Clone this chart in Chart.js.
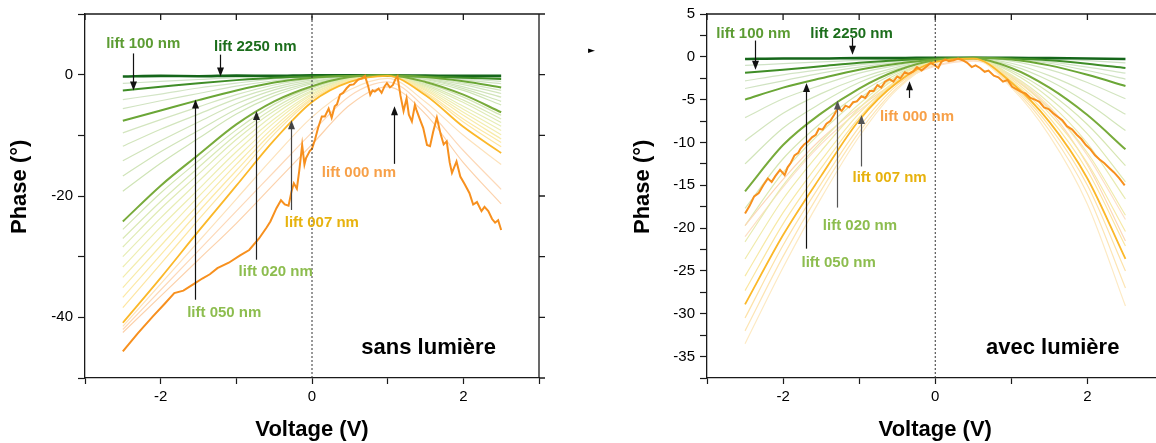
<!DOCTYPE html>
<html>
<head>
<meta charset="utf-8">
<script src="https://cdn.jsdelivr.net/npm/chart.js@4"></script>
<style>
  html, body { margin: 0; padding: 0; background: #fff; width: 1156px; height: 443px; overflow: hidden; }
  #sans { position: absolute; left: 0; top: 0; }
  #avec { position: absolute; left: 580px; top: 0; }
  #mark { position: absolute; left: 588px; top: 45px; font: 9px "DejaVu Sans", sans-serif; color: #000; }
</style>
</head>
<body>
<canvas id="sans" width="560" height="443" style="width:560px;height:443px"></canvas>
<canvas id="avec" width="600" height="443" style="width:600px;height:443px"></canvas>
<div id="mark">►</div>
<script>
Chart.defaults.font.family = '"Liberation Sans", Arial, Helvetica, sans-serif';
Chart.defaults.font.size = 15;
Chart.defaults.color = '#000';

// shared voltage grid for the smooth curves
const volts = [-2.5, -2, -1.5, -1, -0.5, 0, 0.5, 1, 1.5, 2, 2.5];
const xLabels = [-2, 0, 2];

// ---- sans lumière ----
const sansYLabels = [0, -20, -40];
const sansLift000Volts = [-2.5,-2.3,-2.1,-1.95,-1.82,-1.7,-1.56,-1.45,-1.35,-1.25,-1.1,-0.95,-0.83,-0.7,-0.6,-0.55,-0.47,-0.41,-0.36,-0.31,-0.27,-0.24,-0.2,-0.17,-0.13,-0.1,-0.08,-0.03,0,0.04,0.08,0.13,0.17,0.22,0.26,0.3,0.33,0.37,0.41,0.46,0.5,0.55,0.61,0.66,0.7,0.74,0.77,0.8,0.83,0.88,0.92,0.96,0.99,1.03,1.07,1.1,1.13,1.17,1.21,1.25,1.28,1.32,1.36,1.38,1.43,1.47,1.52,1.56,1.6,1.65,1.7,1.74,1.78,1.82,1.85,1.91,1.96,2.02,2.08,2.13,2.18,2.24,2.28,2.33,2.38,2.42,2.46,2.5];
const sansLift000 = [-45.6,-42.6,-39.8,-37.8,-36.0,-35.6,-34.5,-33.6,-32.9,-31.9,-31.0,-29.8,-28.9,-27.0,-25.2,-24.2,-22.0,-20.7,-21.4,-21.6,-19.2,-17.9,-18.8,-16.0,-11.6,-14.8,-13.8,-12.6,-12.2,-10.7,-8.8,-6.9,-6.9,-5.6,-7.1,-5.2,-4.9,-3.3,-3.0,-2.2,-1.7,-1.6,-0.8,-0.6,-0.2,-1.8,-3.3,-2.6,-2.8,-2.3,-3.0,-1.9,-1.4,-2.1,-1.7,-0.8,-0.3,-3.5,-6.0,-3.9,-6.6,-7.7,-5.0,-5.8,-7.5,-8.8,-11.6,-11.8,-9.5,-7.1,-9.8,-11.5,-11.0,-14.5,-16.2,-14.3,-16.8,-18.1,-19.5,-21.4,-21.0,-22.5,-21.8,-22.5,-23.8,-24.4,-24.0,-25.6];
const sansLift007 = [-40.9, -33.5, -25.8, -18.3, -10.8, -4.5, -1.2, -0.2, -3.4, -8.6, -12.9];
const sansLift020 = [-24.2, -18.3, -13.2, -8.2, -4.4, -1.9, -0.4, -0.1, -1.2, -3.3, -6.2];
const sansLift050 = [-7.6, -5.9, -4.2, -2.6, -1.3, -0.5, -0.2, -0.1, -0.4, -1.1, -2.1];
const sansLift100 = [-2.6, -2.0, -1.4, -0.9, -0.5, -0.3, -0.2, -0.2, -0.3, -0.5, -0.7];
const sansLift2250 = [-0.3, -0.2, -0.25, -0.15, -0.2, -0.1, -0.1, -0.1, -0.15, -0.2, -0.2];
// the unlabelled lifts in between, bottom to top
const sansOther = [
  [-42.5, -36.5, -30.5, -24.5, -18.0, -11.5, -5.0, -2.0, -6.5, -14.5, -21.3],
  [-42.0, -35.5, -29.0, -22.5, -16.0, -9.5, -3.5, -1.2, -5.5, -12.5, -18.9],
  [-41.5, -34.5, -27.5, -20.5, -13.5, -7.0, -2.5, -0.6, -4.5, -10.0, -14.8],
  [-38.4, -31.2, -23.9, -16.8, -9.8, -4.1, -1.1, -0.2, -3.1, -7.8, -11.9],
  [-36.7, -29.7, -22.6, -15.8, -9.2, -3.9, -1.0, -0.2, -2.9, -7.3, -11.2],
  [-35.1, -28.2, -21.4, -14.8, -8.6, -3.6, -0.9, -0.2, -2.6, -6.7, -10.6],
  [-33.4, -26.7, -20.1, -13.8, -7.9, -3.3, -0.8, -0.15, -2.4, -6.2, -9.9],
  [-31.7, -25.1, -18.9, -12.7, -7.3, -3.1, -0.8, -0.15, -2.2, -5.7, -9.2],
  [-30.0, -23.6, -17.6, -11.7, -6.6, -2.8, -0.7, -0.15, -2.0, -5.2, -8.5],
  [-28.4, -22.1, -16.4, -10.7, -6.0, -2.6, -0.6, -0.1, -1.8, -4.6, -7.9],
  [-27.0, -20.9, -15.3, -9.9, -5.5, -2.3, -0.5, -0.1, -1.6, -4.2, -7.3],
  [-25.5, -19.5, -14.2, -9.1, -4.9, -2.1, -0.5, -0.1, -1.4, -3.7, -6.7],
  [-19.2, -14.6, -10.5, -6.5, -3.5, -1.5, -0.35, -0.1, -1.0, -2.6, -5.0],
  [-16.7, -12.7, -9.2, -5.7, -3.0, -1.3, -0.3, -0.1, -0.8, -2.3, -4.4],
  [-14.2, -10.9, -7.8, -4.8, -2.5, -1.1, -0.3, -0.1, -0.7, -2.0, -3.7],
  [-11.8, -9.0, -6.5, -4.0, -2.1, -0.85, -0.25, -0.1, -0.6, -1.65, -3.1],
  [-9.6, -7.4, -5.3, -3.3, -1.7, -0.7, -0.2, -0.1, -0.5, -1.4, -2.6],
  [-5.6, -4.3, -3.1, -1.9, -1.0, -0.4, -0.2, -0.1, -0.35, -0.85, -1.5],
  [-4.1, -3.2, -2.2, -1.4, -0.7, -0.35, -0.2, -0.15, -0.35, -0.7, -1.1],
  [-1.45, -1.1, -0.8, -0.5, -0.35, -0.2, -0.15, -0.15, -0.2, -0.35, -0.45]
];

// ---- avec lumière ----
const avecYLabels = [5, 0, -5, -10, -15, -20, -25, -30, -35];
const avecLift000Volts = [-2.5,-2.44,-2.38,-2.32,-2.26,-2.2,-2.15,-2.1,-2.04,-1.98,-1.94,-1.9,-1.85,-1.8,-1.77,-1.72,-1.67,-1.62,-1.57,-1.53,-1.48,-1.43,-1.38,-1.33,-1.28,-1.23,-1.18,-1.13,-1.08,-1.03,-0.97,-0.92,-0.86,-0.81,-0.76,-0.71,-0.66,-0.6,-0.55,-0.5,-0.46,-0.4,-0.35,-0.29,-0.24,-0.18,-0.11,-0.06,-0.02,0.04,0.08,0.13,0.18,0.24,0.3,0.36,0.42,0.48,0.53,0.59,0.65,0.7,0.77,0.83,0.89,0.95,1.01,1.07,1.13,1.19,1.25,1.31,1.37,1.43,1.49,1.55,1.61,1.67,1.73,1.8,1.86,1.92,1.98,2.04,2.1,2.16,2.22,2.29,2.35,2.42,2.49];
const avecLift000 = [-18.3,-17.4,-16.3,-15.9,-15.0,-14.2,-14.6,-13.9,-13.2,-13.8,-12.9,-12.4,-11.5,-11.2,-10.7,-10.2,-9.9,-9.4,-9.1,-8.4,-8.5,-7.8,-7.5,-6.8,-6.0,-6.3,-5.7,-5.9,-5.3,-5.2,-4.6,-4.8,-4.0,-4.0,-3.3,-3.6,-2.9,-2.6,-2.9,-2.3,-2.5,-1.8,-2.0,-1.7,-1.2,-1.6,-1.1,-0.7,-0.9,-1.3,-0.6,-0.3,-0.5,-0.4,-0.2,-0.4,-0.7,-1.2,-1.0,-1.3,-1.75,-1.6,-2.2,-2.4,-2.9,-2.7,-3.5,-3.8,-4.1,-4.3,-4.8,-5.0,-5.25,-5.9,-6.1,-6.6,-7.0,-7.4,-8.1,-8.5,-9.1,-9.6,-10.3,-10.8,-11.5,-12.0,-12.4,-13.0,-13.5,-14.2,-15.0];
const avecLift007 = [-28.9, -20.8, -13.9, -7.4, -3.0, -0.6, -0.2, -3.0, -7.6, -14.2, -23.6];
const avecLift020 = [-15.7, -10.3, -6.6, -3.7, -1.6, -0.4, -0.2, -1.3, -3.6, -6.8, -10.8];
const avecLift050 = [-5.0, -3.6, -2.5, -1.5, -0.8, -0.3, -0.1, -0.3, -1.0, -2.1, -3.4];
const avecLift100 = [-1.85, -1.5, -1.1, -0.7, -0.4, -0.2, -0.1, -0.2, -0.4, -0.8, -1.3];
const avecLift2250 = [-0.25, -0.2, -0.2, -0.15, -0.15, -0.1, -0.1, -0.1, -0.15, -0.2, -0.25];
const avecOther = [
  [-33.5, -24.6, -16.5, -9.3, -3.8, -0.8, -0.3, -3.6, -9.2, -17.2, -29.1],
  [-32.0, -23.3, -15.6, -8.8, -3.6, -0.8, -0.25, -3.4, -8.6, -16.0, -27.0],
  [-30.5, -22.0, -14.8, -8.2, -3.3, -0.7, -0.2, -3.2, -8.1, -15.0, -25.0],
  [-27.3, -19.5, -13.0, -7.1, -2.8, -0.6, -0.2, -2.8, -7.1, -13.3, -22.1],
  [-25.6, -18.2, -12.1, -6.6, -2.7, -0.55, -0.2, -2.6, -6.6, -12.4, -20.4],
  [-23.6, -16.6, -11.0, -6.0, -2.4, -0.5, -0.2, -2.3, -6.0, -11.2, -18.5],
  [-21.6, -15.0, -9.9, -5.5, -2.2, -0.5, -0.2, -2.1, -5.4, -10.1, -16.6],
  [-21.0, -15.2, -10.2, -6.3, -3.1, -1.1, -0.5, -2.2, -5.8, -11.5, -19.0],
  [-19.7, -14.3, -9.6, -5.9, -2.9, -1.0, -0.4, -2.4, -6.2, -12.6, -21.5],
  [-19.7, -13.5, -8.8, -4.9, -2.0, -0.5, -0.2, -1.8, -4.8, -9.0, -14.6],
  [-17.7, -11.9, -7.7, -4.3, -1.8, -0.4, -0.2, -1.6, -4.2, -7.9, -12.7],
  [-12.5, -8.3, -5.4, -3.0, -1.4, -0.4, -0.15, -1.0, -2.8, -5.4, -8.6],
  [-9.8, -6.6, -4.3, -2.5, -1.2, -0.35, -0.15, -0.75, -2.2, -4.2, -6.7],
  [-7.1, -4.9, -3.3, -1.9, -1.0, -0.3, -0.1, -0.5, -1.5, -3.0, -4.9],
  [-3.7, -2.8, -1.9, -1.2, -0.65, -0.25, -0.1, -0.25, -0.75, -1.6, -2.6],
  [-2.8, -2.1, -1.5, -0.95, -0.5, -0.25, -0.1, -0.2, -0.6, -1.2, -1.9],
  [-1.0, -0.8, -0.6, -0.4, -0.25, -0.15, -0.1, -0.15, -0.25, -0.45, -0.7]
];

// styles
const sansOtherColors = ['#fcd2ac','#fdd9b9','#fde2bb','#fde6a2','#fce9a6','#f8eba9','#f3edae','#eeeeb2','#e7edb5','#e0ebb6','#dae9b6','#d4e6b5','#cfe4b6','#d0e4b9','#d1e4bb','#d2e5bd','#d3e5bf','#d0e3c1','#d3e5c6','#cfe2c6'];
const avecOtherColors = ['#fdeac4','#fde5b4','#fde2a8','#fbe6a0','#f7e9a6','#f0ebac','#e8ebb1','#fde0c6','#fcd8b8','#dfe9b3','#d7e6b3','#d2e5ba','#d3e5be','#d3e5c1','#d0e3c2','#d3e5c6','#cfe2c6'];

const framePlugin = {
  id: 'frame',
  afterDraw(chart) {
    const {ctx, chartArea: a, scales: {x, y}} = chart;
    ctx.save();
    ctx.strokeStyle = '#1a1a1a';
    ctx.lineWidth = 1.3;
    ctx.beginPath();
    ctx.moveTo(a.left, a.top); ctx.lineTo(a.right, a.top); ctx.lineTo(a.right, a.bottom);
    x.ticks.forEach(t => { const p = x.getPixelForValue(t.value); ctx.moveTo(p, a.top); ctx.lineTo(p, a.top + 6); });
    y.ticks.forEach(t => { const p = y.getPixelForValue(t.value); ctx.moveTo(a.right, p); ctx.lineTo(a.right + 6, p); });
    ctx.stroke();
    ctx.restore();
  }
};

const notesPlugin = {
  id: 'notes',
  afterDatasetsDraw(chart, args, opts) {
    const {ctx, scales: {x, y}} = chart;
    ctx.save();
    opts.arrows.forEach(a => {
      const px = Math.round(x.getPixelForValue(a.x)) + 0.5;
      const y0 = y.getPixelForValue(a.from), y1 = y.getPixelForValue(a.to);
      const dir = y1 > y0 ? 1 : -1;
      ctx.strokeStyle = a.color; ctx.fillStyle = a.color; ctx.lineWidth = 1.2;
      ctx.beginPath(); ctx.moveTo(px, y0); ctx.lineTo(px, y1 - dir * 6); ctx.stroke();
      ctx.beginPath(); ctx.moveTo(px, y1); ctx.lineTo(px - 3.5, y1 - dir * 9); ctx.lineTo(px + 3.5, y1 - dir * 9); ctx.closePath(); ctx.fill();
    });
    ctx.textBaseline = 'middle';
    ctx.textAlign = 'center';
    ctx.font = 'bold 15px "Liberation Sans", Arial, sans-serif';
    opts.labels.forEach(l => {
      ctx.fillStyle = l.color;
      ctx.fillText(l.text, x.getPixelForValue(l.x), y.getPixelForValue(l.y));
    });
    const c = opts.caption;
    ctx.textAlign = 'right';
    ctx.fillStyle = '#000';
    ctx.font = 'bold 22px "Liberation Sans", Arial, sans-serif';
    ctx.fillText(c.text, x.getPixelForValue(c.x), y.getPixelForValue(c.y));
    ctx.restore();
  }
};

function pts(xs, ys) { return xs.map((v, i) => ({x: v, y: ys[i]})); }

function panel(id, p) {
  const smooth = {cubicInterpolationMode: 'monotone'};
  const main = [
    {data: pts(p.v000, p.y000), borderColor: '#f7901e', borderWidth: 2},
    {data: pts(volts, p.y007), borderColor: '#fbb829', borderWidth: 1.8, ...smooth},
    {data: pts(volts, p.y020), borderColor: '#78ab3b', borderWidth: 2, ...smooth},
    {data: pts(volts, p.y050), borderColor: '#6aa636', borderWidth: 2, ...smooth},
    {data: pts(volts, p.y100), borderColor: '#3f8d27', borderWidth: 2, ...smooth},
    {data: pts(volts, p.y2250), borderColor: '#15661a', borderWidth: 2.6, ...smooth}
  ];
  const others = p.other.map((ys, i) => ({data: pts(volts, ys), borderColor: p.otherColors[i], borderWidth: 1.2, ...smooth}));
  const zero = {data: [{x: 0, y: p.yMin}, {x: 0, y: p.yMax}], borderColor: '#333', borderWidth: 1, borderDash: [2, 2]};
  const axisLine = {display: true, color: '#1a1a1a', width: 1.3};
  return new Chart(document.getElementById(id), {
    type: 'line',
    data: {datasets: [zero, ...main, ...others]},
    options: {
      responsive: false,
      animation: false,
      events: [],
      layout: {padding: {top: 12, right: p.rightPad, left: 0, bottom: 0}},
      elements: {point: {radius: 0}, line: {fill: false, tension: 0}},
      plugins: {legend: {display: false}, tooltip: {enabled: false}, notes: p.notes},
      scales: {
        x: {
          type: 'linear', min: -3, max: 3,
          border: axisLine,
          grid: {display: true, drawOnChartArea: false, tickLength: 6, color: '#1a1a1a', tickWidth: 1.2},
          ticks: {stepSize: 1, autoSkip: false, maxRotation: 0, padding: 4, callback: v => xLabels.includes(v) ? v : ''},
          title: {display: true, text: 'Voltage (V)', font: {size: 22, weight: 'bold'}, padding: {top: 0, bottom: 0}},
          afterFit: s => { s.height = 65; }
        },
        y: {
          type: 'linear', min: p.yMin, max: p.yMax,
          border: axisLine,
          grid: {display: true, drawOnChartArea: false, tickLength: 7, color: '#1a1a1a', tickWidth: 1.2},
          ticks: {stepSize: p.yStep, autoSkip: false, padding: 5, callback: v => p.yLabels.includes(v) ? v : ''},
          title: {display: true, text: '   Phase (°)', font: {size: 22, weight: 'bold'}, padding: {top: p.titlePad, bottom: 0}},
          afterFit: s => { s.width = p.yWidth; }
        }
      }
    },
    plugins: [framePlugin, notesPlugin]
  });
}

panel('sans', {
  v000: sansLift000Volts, y000: sansLift000, y007: sansLift007, y020: sansLift020,
  y050: sansLift050, y100: sansLift100, y2250: sansLift2250,
  other: sansOther, otherColors: sansOtherColors,
  yMin: -50, yMax: 10, yStep: 10, yLabels: sansYLabels,
  yWidth: 85, rightPad: 21, titlePad: 7,
  notes: {
    arrows: [
      {x: -2.37, from: 3.5, to: -2.6, color: '#111'},
      {x: -1.22, from: 3.3, to: -0.3, color: '#111'},
      {x: -1.55, from: -37.1, to: -4.1, color: '#111'},
      {x: -0.74, from: -30.5, to: -6.0, color: '#222'},
      {x: -0.28, from: -22.3, to: -7.5, color: '#444'},
      {x: 1.08, from: -14.7, to: -5.2, color: '#111'}
    ],
    labels: [
      {text: 'lift 100 nm', x: -2.23, y: 5.0, color: '#5c9c33'},
      {text: 'lift 2250 nm', x: -0.75, y: 4.6, color: '#1c6e1c'},
      {text: 'lift 000 nm', x: 0.62, y: -16.2, color: '#f7a048'},
      {text: 'lift 007 nm', x: 0.13, y: -24.4, color: '#e7b20e'},
      {text: 'lift 020 nm', x: -0.48, y: -32.5, color: '#8dbd4f'},
      {text: 'lift 050 nm', x: -1.16, y: -39.3, color: '#8dbd4f'}
    ],
    caption: {text: 'sans lumière', x: 2.43, y: -45.0}
  }
});

panel('avec', {
  v000: avecLift000Volts, y000: avecLift000, y007: avecLift007, y020: avecLift020,
  y050: avecLift050, y100: avecLift100, y2250: avecLift2250,
  other: avecOther, otherColors: avecOtherColors,
  yMin: -37.5, yMax: 5, yStep: 2.5, yLabels: avecYLabels,
  yWidth: 127, rightPad: 16.5, titlePad: 50,
  notes: {
    arrows: [
      {x: -2.37, from: 1.9, to: -1.5, color: '#111'},
      {x: -1.09, from: 2.2, to: 0.25, color: '#111'},
      {x: -1.70, from: -22.4, to: -3.05, color: '#111'},
      {x: -1.29, from: -17.6, to: -5.1, color: '#555'},
      {x: -0.97, from: -12.8, to: -6.8, color: '#555'},
      {x: -0.34, from: -4.8, to: -2.85, color: '#111'}
    ],
    labels: [
      {text: 'lift 100 nm', x: -2.39, y: 2.63, color: '#5c9c33'},
      {text: 'lift 2250 nm', x: -1.10, y: 2.63, color: '#1c6e1c'},
      {text: 'lift 000 nm', x: -0.24, y: -7.0, color: '#f7a048'},
      {text: 'lift 007 nm', x: -0.60, y: -14.1, color: '#e7b20e'},
      {text: 'lift 020 nm', x: -0.99, y: -19.7, color: '#8dbd4f'},
      {text: 'lift 050 nm', x: -1.27, y: -24.1, color: '#8dbd4f'}
    ],
    caption: {text: 'avec lumière', x: 2.42, y: -34.0}
  }
});
</script>
</body>
</html>
